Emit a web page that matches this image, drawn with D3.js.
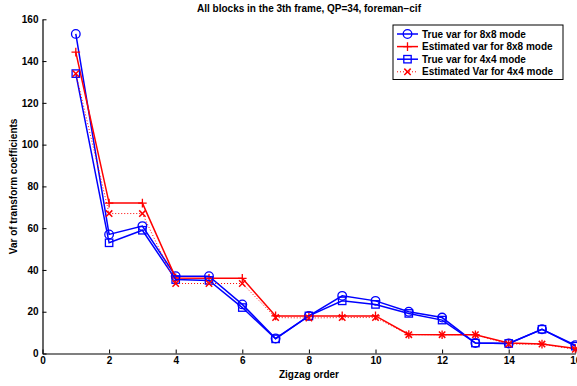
<!DOCTYPE html>
<html lang="en">
<head>
    <meta charset="UTF-8">
    <title>Zigzag variance</title>
    <script src="https://cdn.jsdelivr.net/npm/d3@7"></script>
    <style>
        body { margin: 0; background: #fff; }
        #graphDiv { width: 577px; height: 386px; }
        text { font-family: "Liberation Sans", Arial, sans-serif; font-weight: bold; }
    </style>
</head>
<body>
<div id="graphDiv"></div>
<script>
    // zigzag positions 1..16
    var zigzag = d3.range(1, 17);
    var trueVar8x8 = [153, 57, 61, 37, 37, 23.5, 7.2, 18, 27.6, 25.2, 20, 17.2, 5, 4.8, 11.6, 4];
    var estVar8x8 = [144.3, 72, 72, 36.2, 36, 36, 18, 18, 18, 18, 9.1, 9, 9, 5, 4.5, 2.4];
    var trueVar4x4 = [134, 53, 59, 35.4, 35, 22, 7, 18, 25.2, 23.5, 19.2, 16, 5, 4.8, 11.6, 3.5];
    var estVar4x4 = [134, 67, 67, 33.5, 33.5, 33.5, 17.2, 17, 17.2, 17.2, 9, 9, 9, 4.5, 4.5, 2];
    var xTicks = [0, 2, 4, 6, 8, 10, 12, 14, 16];
    var yTicks = [0, 20, 40, 60, 80, 100, 120, 140, 160];

    var series = [
        {name: "True var for 8x8 mode", values: trueVar8x8, color: "#0000ff", marker: "circle", dash: null},
        {name: "Estimated var for 8x8 mode", values: estVar8x8, color: "#ff0000", marker: "plus", dash: null},
        {name: "True var for 4x4 mode", values: trueVar4x4, color: "#0000ff", marker: "square", dash: null},
        {name: "Estimated Var for 4x4 mode", values: estVar4x4, color: "#ff0000", marker: "cross", dash: "1,2"}
    ];

    var W = 577, H = 386;
    var padL = 42.5, padR = 575.3, padT = 19.3, padB = 353.5;

    var svg = d3.select("#graphDiv").append("svg")
        .attr("width", W).attr("height", H);

    var x = d3.scaleLinear().domain([0, 16]).range([padL, padR]);
    var y = d3.scaleLinear().domain([0, 160]).range([padB, padT]);

    // axes with inward ticks
    var xAxis = d3.axisBottom(x).tickValues(xTicks).tickSizeInner(-4).tickSizeOuter(0).tickPadding(6);
    var yAxis = d3.axisLeft(y).tickValues(yTicks).tickSizeInner(-4).tickSizeOuter(0).tickPadding(4);

    var gx = svg.append("g").attr("transform", "translate(0," + padB + ")").call(xAxis);
    var gy = svg.append("g").attr("transform", "translate(" + padL + ",0)").call(yAxis);
    [gx, gy].forEach(function (g) {
        g.selectAll("text").style("font-size", "10px").style("font-weight", "bold").attr("fill", "#000");
        g.selectAll("line").attr("stroke", "#000");
        g.select(".domain").attr("stroke", "#000").attr("stroke-width", 1.2);
    });
    gx.selectAll("text").attr("dy", "0.45em");

    var line = d3.line()
        .x(function (d, i) { return x(zigzag[i]); })
        .y(function (d) { return y(d); });

    function drawMarker(g, type, cx, cy, color) {
        if (type == "circle") {
            g.append("circle").attr("cx", cx).attr("cy", cy).attr("r", 4.3)
                .attr("fill", "none").attr("stroke", color).attr("stroke-width", 1.3);
        } else if (type == "square") {
            g.append("rect").attr("x", cx - 3.7).attr("y", cy - 3.7).attr("width", 7.4).attr("height", 7.4)
                .attr("fill", "none").attr("stroke", color).attr("stroke-width", 1.3);
        } else if (type == "plus") {
            g.append("path").attr("d", "M" + (cx - 4.3) + "," + cy + "H" + (cx + 4.3) + "M" + cx + "," + (cy - 4.3) + "V" + (cy + 4.3))
                .attr("stroke", color).attr("stroke-width", 1.3).attr("fill", "none");
        } else if (type == "cross") {
            var s = 3.2;
            g.append("path").attr("d", "M" + (cx - s) + "," + (cy - s) + "L" + (cx + s) + "," + (cy + s) + "M" + (cx - s) + "," + (cy + s) + "L" + (cx + s) + "," + (cy - s))
                .attr("stroke", color).attr("stroke-width", 1.5).attr("fill", "none");
        }
    }

    series.forEach(function (s) {
        var g = svg.append("g");
        g.append("path").datum(s.values)
            .attr("d", line)
            .attr("fill", "none")
            .attr("stroke", s.color)
            .attr("stroke-width", s.dash ? 1 : 1.5)
            .attr("stroke-dasharray", s.dash);
        s.values.forEach(function (v, i) {
            drawMarker(g, s.marker, x(zigzag[i]), y(v), s.color);
        });
    });

    // title and labels
    svg.append("text").attr("x", 309).attr("y", 12).attr("text-anchor", "middle")
        .style("font-size", "10px").text("All blocks in the 3th frame, QP=34, foreman\u2212cif");
    svg.append("text").attr("x", 309).attr("y", 378).attr("text-anchor", "middle")
        .style("font-size", "10px").text("Zigzag order");
    svg.append("text").attr("transform", "translate(17," + ((padT + padB) / 2) + ") rotate(-90)")
        .attr("text-anchor", "middle").style("font-size", "10px").text("Var of transform coefficients");

    // legend
    var lg = svg.append("g");
    lg.append("rect").attr("x", 393).attr("y", 25).attr("width", 170).attr("height", 54.5)
        .attr("fill", "#fff").attr("stroke", "#000").attr("stroke-width", 1);
    series.forEach(function (s, i) {
        var ly = 34 + i * 12.6;
        lg.append("line").attr("x1", 397).attr("x2", 418).attr("y1", ly).attr("y2", ly)
            .attr("stroke", s.color).attr("stroke-width", s.dash ? 1 : 1.5)
            .attr("stroke-dasharray", s.dash);
        drawMarker(lg, s.marker, 407.5, ly, s.color);
        lg.append("text").attr("x", 422).attr("y", ly + 3.6).style("font-size", "10px").text(s.name);
    });
</script>
</body>
</html>
